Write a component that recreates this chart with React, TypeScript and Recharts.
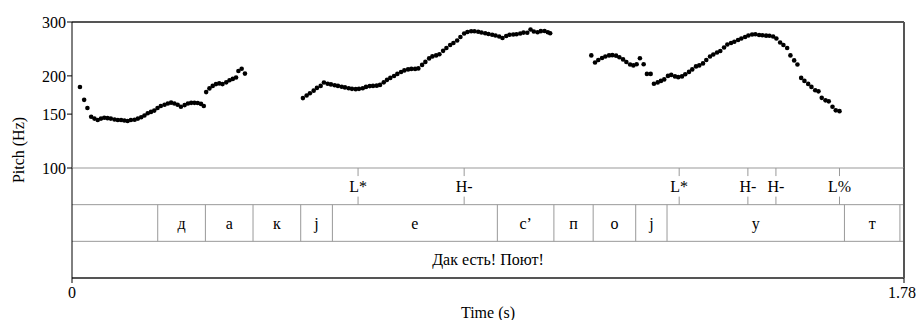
import React from 'react';
import {
  ScatterChart,
  Scatter,
  XAxis,
  YAxis,
  ReferenceLine,
  ReferenceArea,
  ReferenceDot,
} from 'recharts';

const FONT = '"Liberation Serif", "Times New Roman", serif';

// Pitch samples: [time (s), F0 (Hz)]
const PITCH_SEG_1: [number, number][] = [
  [0.017, 184], [0.026, 167], [0.033, 157], [0.041, 147], [0.048, 145], [0.055, 143.5],
  [0.062, 145], [0.069, 146], [0.076, 145.5], [0.083, 145], [0.091, 144], [0.098, 143.5],
  [0.105, 143.5], [0.112, 143], [0.119, 142.5], [0.126, 143.5], [0.134, 143.7], [0.141, 145],
  [0.148, 146.5], [0.155, 148.5], [0.162, 151], [0.169, 152.5], [0.176, 154], [0.183, 157],
  [0.19, 159.5], [0.198, 161], [0.205, 162.5], [0.212, 163.5], [0.219, 162.5], [0.226, 161],
  [0.233, 158.5], [0.241, 160.5], [0.248, 162.5], [0.255, 163.3], [0.262, 163.3], [0.269, 163],
  [0.276, 162], [0.282, 159.5],
];

const PITCH_SEG_2: [number, number][] = [
  [0.287, 177], [0.294, 182], [0.301, 185.5], [0.308, 188], [0.315, 189], [0.322, 188],
  [0.33, 190.5], [0.337, 193.5], [0.344, 195.5], [0.351, 197.5], [0.356, 207.5], [0.363, 211],
  [0.37, 203.5],
];

const PITCH_SEG_3: [number, number][] = [
  [0.494, 169.2], [0.502, 172.5], [0.509, 175.6], [0.517, 179], [0.524, 182.7], [0.532, 185.5],
  [0.539, 190.2], [0.547, 188.6], [0.554, 187.6], [0.562, 186.4], [0.569, 185.5], [0.577, 184.4],
  [0.584, 183.4], [0.592, 182.3], [0.599, 181.4], [0.607, 181], [0.614, 181.4], [0.622, 182.3],
  [0.629, 184.1], [0.637, 185.2], [0.644, 185.5], [0.652, 185.8], [0.659, 186.9], [0.667, 190.5],
  [0.674, 194.1], [0.681, 197], [0.689, 199.9], [0.696, 203], [0.704, 206], [0.711, 208.4],
  [0.719, 210], [0.726, 210.8], [0.734, 210.8], [0.741, 211.6], [0.749, 217.2], [0.756, 222.2],
  [0.764, 228.1], [0.771, 231.6], [0.779, 233.3], [0.786, 235.4], [0.794, 241.5], [0.801, 246.8],
  [0.809, 252.4], [0.816, 256.2], [0.824, 261.1], [0.831, 268], [0.839, 275.2], [0.846, 278.3],
  [0.854, 279.7], [0.861, 279.7], [0.869, 278.7], [0.876, 277.2], [0.884, 275.8], [0.891, 274.2],
  [0.899, 272.5], [0.906, 271], [0.914, 269], [0.921, 266], [0.929, 270], [0.936, 272.5],
  [0.944, 273.1], [0.951, 273.5], [0.959, 275.2], [0.966, 277], [0.974, 276.6], [0.981, 283.5],
  [0.988, 279.3], [0.996, 277.8], [1.003, 280], [1.011, 280.4], [1.018, 277.6], [1.023, 275.6],
];

const PITCH_SEG_4: [number, number][] = [
  [1.111, 233.3], [1.119, 221.3], [1.126, 225.5], [1.134, 228.9], [1.141, 231.5], [1.149, 233.3],
  [1.156, 233.8], [1.164, 232.9], [1.171, 230.1], [1.179, 226.4], [1.186, 222.1], [1.194, 218],
  [1.201, 216.4], [1.208, 218.3], [1.215, 228.4], [1.223, 218.3], [1.23, 203], [1.238, 203],
  [1.245, 188.6], [1.253, 190.4], [1.26, 192.6], [1.267, 194.8], [1.275, 200], [1.282, 201.5],
  [1.29, 199.2], [1.297, 198.1], [1.305, 199.2], [1.312, 202.5], [1.32, 206.1], [1.327, 210],
  [1.335, 214.8], [1.342, 216.4], [1.35, 219.7], [1.357, 225.5], [1.365, 231.5], [1.372, 235],
  [1.38, 238.6], [1.387, 241.3], [1.395, 247.7], [1.402, 253.4], [1.41, 256.2], [1.417, 258.5],
  [1.425, 262.1], [1.432, 265], [1.44, 268], [1.447, 271.1], [1.455, 273.1], [1.462, 273.5],
  [1.47, 272.1], [1.477, 271.5], [1.485, 270.7], [1.492, 270.4], [1.5, 269], [1.507, 265],
  [1.515, 257.2], [1.522, 252.4], [1.53, 246.8], [1.537, 233.3], [1.545, 224.7], [1.552, 218],
  [1.56, 197], [1.567, 192.6], [1.575, 188.3], [1.582, 184.1], [1.59, 179.6], [1.597, 178],
  [1.604, 169.5], [1.612, 166.4], [1.619, 165.1], [1.627, 158.5], [1.634, 154.3], [1.642, 153.4],
];

const PITCH_TICKS = [100, 150, 200, 300];
const PITCH_DOMAIN: [number, number] = [100, 300];
const TIME_DOMAIN: [number, number] = [0, 1.78];
const TIME_TICKS = [0, 1.78];

// Tier 1: tones (points)
const TONE_TIMES = [0.612, 0.839, 1.299, 1.446, 1.506, 1.642];
const TONE_LABELS = ['L*', 'H-', 'L*', 'H-', 'H-', 'L%'];

// Tier 2: segments (intervals)
const SEG_BOUNDS = [0, 0.1834, 0.2854, 0.3873, 0.4893, 0.5571, 0.91, 1.031, 1.115, 1.206, 1.273, 1.6526, 1.7713, 1.78];
const SEG_LABELS = ['', 'д', 'а', 'к', 'j', 'е', 'с’', 'п', 'о', 'j', 'у', 'т', ''];

// Tier 3: words
const WORD_BOUNDS = [0, 1.78];
const WORD_LABELS = ['Дак есть! Поют!'];

const W = 916;
const H = 320;
const MARGIN_L = 12;
const AXIS_W = 60;
const MARGIN_R = 12;
const PITCH_TOP = 22;
const PITCH_BOTTOM = 168;
const TIER_BOTTOM = 278;

const LINE = '#999';
const FRAME = '#555';

const pitchData = [...PITCH_SEG_1, ...PITCH_SEG_2, ...PITCH_SEG_3, ...PITCH_SEG_4].map(([t, hz]) => ({ t, hz }));

// tier-row anchor points (tier index on y: 0 = words, 1 = segments, 2 = tones)
const tierData = [
  ...TONE_TIMES.map((t) => ({ t, y: 2.5 })),
  ...SEG_BOUNDS.map((t) => ({ t, y: 1.5 })),
  ...WORD_BOUNDS.map((t) => ({ t, y: 0.5 })),
];

const textStyle = { fill: '#000', fontSize: 16, fontFamily: FONT };

const Dot = (p: any) => <circle cx={p.cx} cy={p.cy} r={2.3} fill="#000" />;
const NoDot = () => <g />;

export default function App() {
  return (
    <div style={{ position: 'absolute', left: 0, top: 0, width: W, height: H, background: '#fff' }}>
      <div style={{ position: 'absolute', left: 0, top: 0 }}>
        <ScatterChart
          width={W}
          height={H}
          margin={{ top: PITCH_TOP, right: MARGIN_R, bottom: H - PITCH_BOTTOM, left: MARGIN_L }}
        >
          <XAxis type="number" dataKey="t" domain={TIME_DOMAIN} hide />
          <YAxis
            type="number"
            dataKey="hz"
            scale="log"
            domain={PITCH_DOMAIN}
            ticks={PITCH_TICKS}
            allowDataOverflow
            width={AXIS_W}
            tickSize={5}
            tickMargin={1}
            axisLine={{ stroke: '#000' }}
            tickLine={{ stroke: '#000' }}
            tick={textStyle}
            label={{
              value: 'Pitch (Hz)',
              angle: -90,
              position: 'insideLeft',
              offset: 6,
              dy: 55,
              style: { textAnchor: 'middle' },
              ...textStyle,
            }}
          />
          <ReferenceLine y={300} stroke={FRAME} strokeWidth={2} />
          <ReferenceLine x={1.78} stroke={FRAME} strokeWidth={2} />
          <Scatter data={pitchData} isAnimationActive={false} shape={Dot} />
        </ScatterChart>
      </div>
      <div style={{ position: 'absolute', left: 0, top: 0 }}>
        <ScatterChart
          width={W}
          height={H}
          margin={{ top: PITCH_BOTTOM, right: MARGIN_R, bottom: 0, left: MARGIN_L }}
        >
          <XAxis
            type="number"
            dataKey="t"
            domain={TIME_DOMAIN}
            ticks={TIME_TICKS}
            allowDataOverflow
            tickFormatter={(v: number) => String(v)}
            height={H - TIER_BOTTOM}
            tickSize={5}
            tickMargin={4}
            axisLine={{ stroke: FRAME, strokeWidth: 2 }}
            tickLine={{ stroke: '#000' }}
            tick={textStyle}
            label={{ value: 'Time (s)', position: 'insideBottom', offset: 2, ...textStyle }}
          />
          <YAxis
            type="number"
            dataKey="y"
            domain={[0, 3]}
            allowDataOverflow
            width={AXIS_W}
            tick={false}
            tickLine={false}
            axisLine={{ stroke: '#000' }}
          />
          <Scatter data={tierData} isAnimationActive={false} shape={NoDot} />
          <ReferenceLine y={3} stroke={LINE} />
          <ReferenceLine y={2} stroke={LINE} />
          <ReferenceLine y={1} stroke={LINE} />
          <ReferenceLine x={1.78} stroke={FRAME} strokeWidth={2} />

          {TONE_TIMES.map((t, i) => (
            <ReferenceLine key={'tt' + i} segment={[{ x: t, y: 3 }, { x: t, y: 2.78 }]} stroke={LINE} />
          ))}
          {TONE_TIMES.map((t, i) => (
            <ReferenceLine key={'tb' + i} segment={[{ x: t, y: 2.22 }, { x: t, y: 2 }]} stroke={LINE} />
          ))}
          {TONE_TIMES.map((t, i) => (
            <ReferenceDot
              key={'tl' + i}
              x={t}
              y={2.5}
              r={0}
              fill="none"
              stroke="none"
              label={{ value: TONE_LABELS[i], position: 'center', ...textStyle }}
            />
          ))}

          {SEG_BOUNDS.slice(1, -1).map((b, i) => (
            <ReferenceLine key={'sb' + i} segment={[{ x: b, y: 1 }, { x: b, y: 2 }]} stroke={LINE} />
          ))}
          {SEG_LABELS.map((lab, i) =>
            lab ? (
              <ReferenceArea
                key={'sl' + i}
                x1={SEG_BOUNDS[i]}
                x2={SEG_BOUNDS[i + 1]}
                y1={1}
                y2={2}
                fill="none"
                stroke="none"
                label={{ value: lab, position: 'center', ...textStyle }}
              />
            ) : null
          )}

          {WORD_LABELS.map((lab, i) => (
            <ReferenceArea
              key={'wl' + i}
              x1={WORD_BOUNDS[i]}
              x2={WORD_BOUNDS[i + 1]}
              y1={0}
              y2={1}
              fill="none"
              stroke="none"
              label={{ value: lab, position: 'center', ...textStyle }}
            />
          ))}
        </ScatterChart>
      </div>
    </div>
  );
}
